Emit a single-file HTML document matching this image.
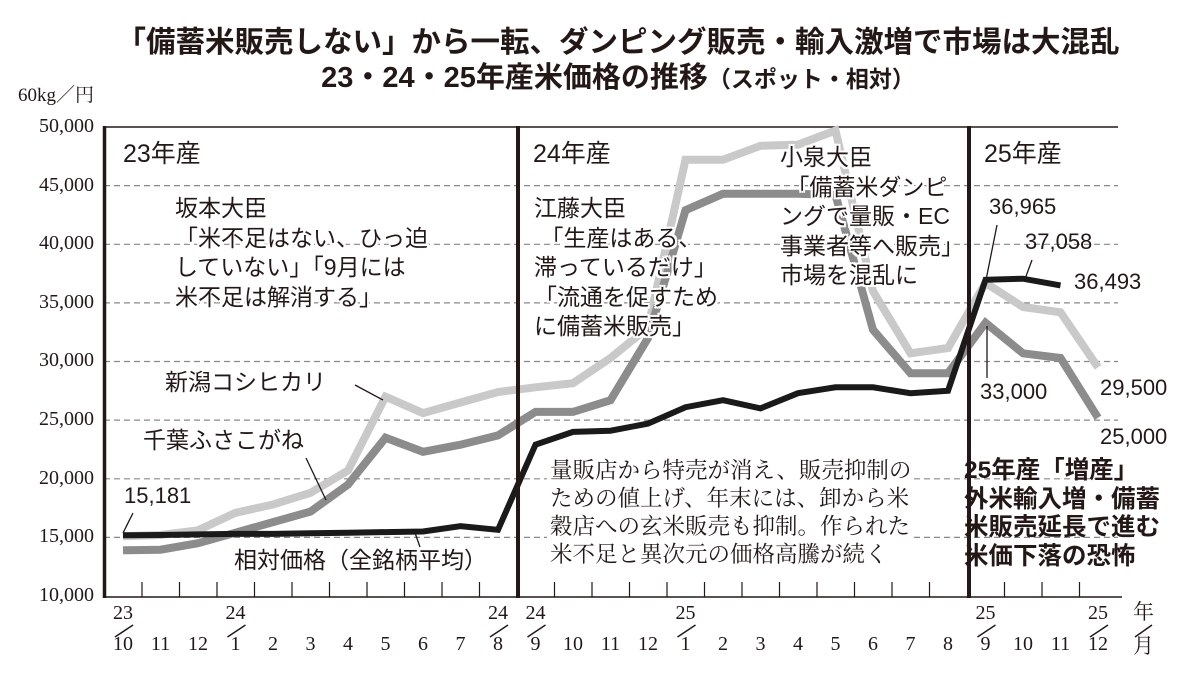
<!DOCTYPE html>
<html><head><meta charset="utf-8">
<style>
html,body{margin:0;padding:0;background:#fff;}
body{width:1196px;height:684px;overflow:hidden;position:relative;font-family:"Liberation Sans","Noto Sans CJK JP",sans-serif;color:#231815;}
svg{position:absolute;left:0;top:0;}
.t{position:absolute;white-space:nowrap;line-height:1;}
.ser{font-family:"Liberation Serif","Noto Serif CJK SC",serif;}
.box{position:absolute;white-space:nowrap;}
.halo{text-shadow:2px 0 0 #fff,-2px 0 0 #fff,0 2px 0 #fff,0 -2px 0 #fff,2px 2px 0 #fff,-2px -2px 0 #fff,2px -2px 0 #fff,-2px 2px 0 #fff;}
</style></head><body>
<svg width="1196" height="684" id="s">
<g stroke="#888" stroke-width="1.2" stroke-dasharray="6 4">
<line x1="104" x2="1118" y1="185.6" y2="185.6"/>
<line x1="104" x2="1118" y1="244.3" y2="244.3"/>
<line x1="104" x2="1118" y1="302.9" y2="302.9"/>
<line x1="104" x2="1118" y1="361.5" y2="361.5"/>
<line x1="104" x2="1118" y1="420.1" y2="420.1"/>
<line x1="104" x2="1118" y1="478.8" y2="478.8"/>
<line x1="104" x2="1118" y1="537.4" y2="537.4"/>
</g>
<line x1="104" x2="1118" y1="127" y2="127" stroke="#231815" stroke-width="1.5"/>
<g id="series" fill="none" stroke-linejoin="miter" stroke-linecap="butt"></g>
<g stroke="#231815" stroke-width="1.3">
<line x1="133" y1="513" x2="123" y2="533"/>
<line x1="383" y1="400" x2="355" y2="385"/>
<line x1="326" y1="500" x2="306" y2="458"/>
<line x1="420" y1="547" x2="414" y2="530"/>
<line x1="997" y1="225" x2="986" y2="280"/>
<line x1="1032" y1="260" x2="1025" y2="279"/>
<line x1="987" y1="326" x2="987" y2="378"/>
</g>
<line x1="104.5" y1="126" x2="104.5" y2="598" stroke="#231815" stroke-width="3.5"/>
<line x1="518" y1="126" x2="518" y2="598" stroke="#231815" stroke-width="4"/>
<line x1="969" y1="126" x2="969" y2="598" stroke="#231815" stroke-width="4"/>
<line x1="103" y1="597" x2="1122" y2="597" stroke="#231815" stroke-width="1.5"/>
<g id="ticks" stroke="#231815" stroke-width="1.2"></g>
<g id="slashes" stroke="#231815" stroke-width="1.5"></g>
</svg>

<div class="t" style="left:0;width:1236px;text-align:center;top:28px;font-size:29.5px;font-weight:bold;">「備蓄米販売しない」から一転、ダンピング販売・輸入激増で市場は大混乱</div>
<div class="t" style="left:0;width:1236px;text-align:center;top:64px;font-size:29px;font-weight:bold;">23・24・25年産米価格の推移<span style="font-size:23px">（スポット・相対）</span></div>
<div class="t ser" style="left:18px;top:86px;font-size:19px;">60kg／円</div>

<div id="ylab"></div>
<div id="xlab"></div>

<div class="t" style="left:123px;top:142px;font-size:25px;">23年産</div>
<div class="t" style="left:533px;top:142px;font-size:25px;">24年産</div>
<div class="t" style="left:984px;top:142px;font-size:25px;">25年産</div>

<div class="box halo" style="left:175px;top:194px;font-size:23px;line-height:29.5px;">坂本大臣<br>「米不足はない、ひっ迫<br>していない」「9月には<br>米不足は解消する」</div>
<div class="box halo" style="left:534px;top:194px;font-size:23px;line-height:29.5px;">江藤大臣<br>&nbsp;「生産はある、<br>滞っているだけ」<br>「流通を促すため<br>に備蓄米販売」</div>
<div class="box halo" style="left:780px;top:143px;font-size:23px;line-height:29.5px;">小泉大臣<br>&nbsp;「備蓄米ダンピ<br>ングで量販・EC<br>事業者等へ販売」<br>市場を混乱に</div>

<div class="t halo" style="left:165px;top:371px;font-size:23px;">新潟コシヒカリ</div>
<div class="t halo" style="left:143px;top:429px;font-size:23px;">千葉ふさこがね</div>
<div class="t" style="left:124px;top:485px;font-size:22px;">15,181</div>
<div class="t halo" style="left:234px;top:549px;font-size:23px;">相対価格（全銘柄平均）</div>

<div class="t" style="left:989px;top:196px;font-size:22px;">36,965</div>
<div class="t" style="left:1025px;top:231px;font-size:22px;">37,058</div>
<div class="t" style="left:1074px;top:271px;font-size:22px;">36,493</div>
<div class="t" style="left:980px;top:381px;font-size:22px;">33,000</div>
<div class="t" style="left:1100px;top:377px;font-size:22px;">29,500</div>
<div class="t" style="left:1100px;top:426px;font-size:22px;">25,000</div>

<div class="box ser" style="left:547px;top:457px;font-size:22.5px;line-height:28px;padding:0 3px;background:#fff;">量販店から特売が消え、販売抑制の<br>ための値上げ、年末には、卸から米<br>穀店への玄米販売も抑制。作られた<br>米不足と異次元の価格高騰が続く</div>
<div class="t" style="left:964px;top:457px;font-size:24.5px;font-weight:bold;line-height:28.5px;">25年産「増産」<br>外米輸入増・備蓄<br>米販売延長で進む<br>米価下落の恐怖</div>

<script>
var X=function(i){return 123+37.5*i;};
var Y=function(v){return 596-(v-10000)*0.011725;};
var light=[15100,15200,15600,17100,17800,18800,20700,27000,25600,26500,27400,27800,28150,30300,32900,47200,47200,48400,48500,49700,36000,30700,31150,36700,34650,34200,29500];
var dark=[13900,13950,14500,15400,16300,17200,19500,23500,22300,22900,23700,25700,25700,26700,32000,42900,44300,44300,44300,44200,32700,29000,29000,33300,30700,30300,25200];
var black=[15181,15200,15250,15300,15300,15350,15400,15450,15500,15950,15650,22900,24000,24100,24700,26100,26700,26000,27300,27800,27800,27300,27500,36965,37058,36493];
function pl(d,c,w){var p=d.map(function(v,i){return X(i).toFixed(1)+','+Y(v).toFixed(1);}).join(' ');
return '<polyline points="'+p+'" stroke="'+c+'" stroke-width="'+w+'"/>';}
document.getElementById('series').innerHTML=pl(light,'#c9c9c9',8)+pl(dark,'#8c8c8c',8)+pl(black,'#1a1a1a',6);
var t='';for(var k=1;k<27;k++){var x=104.5+37.5*k;if(k==11||k==23)continue;t+='<line x1="'+x+'" x2="'+x+'" y1="582" y2="597"/>';}
document.getElementById('ticks').innerHTML=t;
var yl='';var vals=['50,000','45,000','40,000','35,000','30,000','25,000','20,000','15,000','10,000'];
for(var j=0;j<9;j++){yl+='<div class="t ser" style="left:0;width:94px;text-align:right;top:'+(127+58.6*j-11)+'px;font-size:20px;">'+vals[j]+'</div>';}
document.getElementById('ylab').innerHTML=yl;
var m=[10,11,12,1,2,3,4,5,6,7,8,9,10,11,12,1,2,3,4,5,6,7,8,9,10,11,12];
var tops={0:'23',3:'24',10:'24',11:'24',15:'25',23:'25',26:'25'};
var xl='',sl='';
for(var i=0;i<27;i++){var x=X(i);
xl+='<div class="t ser" style="left:'+(x-20)+'px;width:40px;text-align:center;top:634px;font-size:20px;">'+m[i]+'</div>';
if(tops[i]){xl+='<div class="t ser" style="left:'+(x-20)+'px;width:40px;text-align:center;top:603px;font-size:20px;">'+tops[i]+'</div>';
sl+='<line x1="'+(x-8)+'" y1="637" x2="'+(x+10)+'" y2="625"/>';}}
xl+='<div class="t ser" style="left:1133px;top:602px;font-size:21px;">年</div><div class="t ser" style="left:1133px;top:636px;font-size:21px;">月</div>';
sl+='<line x1="1135" y1="637" x2="1152" y2="625"/>';
document.getElementById('xlab').innerHTML=xl;
document.getElementById('slashes').innerHTML=sl;
</script>
</body></html>
